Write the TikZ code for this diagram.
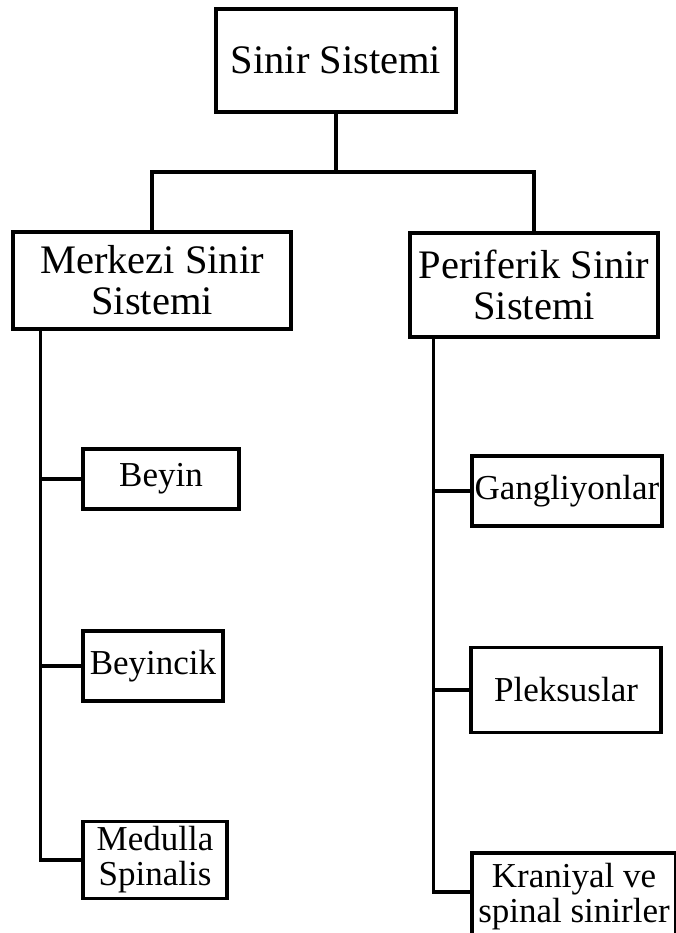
\documentclass[tikz,border=0pt]{standalone}
\usepackage{fontspec}
\setmainfont{Liberation Serif}

\begin{document}
\begin{tikzpicture}[x=1pt, y=-1pt, line width=3.2pt,
    box/.style={draw, rectangle, inner sep=0pt, align=center},
    bigbox/.style={box, font=\fontsize{40.5}{41}\selectfont},
    smallbox/.style={box, font=\fontsize{35}{35}\selectfont}]
    % Page
    \useasboundingbox (0,0) rectangle (676,933);

    % Top level
    \node[bigbox, minimum width=240pt, minimum height=103pt] (sinir) at (336,60.5) {Sinir Sistemi};

    % Second level
    \node[bigbox, minimum width=278pt, minimum height=97pt] (merkezi) at (152,280.5) {Merkezi Sinir\\Sistemi};
    \node[bigbox, minimum width=248pt, minimum height=104pt] (periferik) at (534,285) {Periferik Sinir\\Sistemi};

    % Branches of the central system
    \node[smallbox, minimum width=156pt, minimum height=60pt] (beyin) at (161,479) {Beyin};
    \node[smallbox, minimum width=140pt, minimum height=70pt] (beyincik) at (153,666) {Beyincik};
    \node[smallbox, minimum width=144pt, minimum height=77pt] (medulla) at (155,860) {Medulla\\Spinalis};

    % Branches of the peripheral system
    \node[smallbox, minimum width=190pt, minimum height=70pt] (gangliyon) at (567,491) {Gangliyonlar};
    \node[smallbox, minimum width=190pt, minimum height=85pt] (pleksus) at (566,690) {Pleksuslar};
    \node[smallbox, minimum width=204pt, minimum height=88pt] (kraniyal) at (574,897) {Kraniyal ve\\spinal sinirler};

    % Fork under the top box
    \coordinate (fork) at (336,172);
    \draw (sinir.south) -- (fork);
    \draw (merkezi.north) |- (fork) -| (periferik.north);

    % Trunks
    \coordinate (mtrunk) at ([xshift=29pt]merkezi.south west);
    \coordinate (ptrunk) at ([xshift=25pt]periferik.south west);
    \draw (mtrunk) |- (medulla.west);
    \draw (ptrunk) |- ([yshift=5pt]kraniyal.west);
    \foreach \child in {beyin, beyincik}
        \draw (mtrunk |- \child.west) -- (\child.west);
    \foreach \child in {gangliyon, pleksus}
        \draw (ptrunk |- \child.west) -- (\child.west);
\end{tikzpicture}
\end{document}
